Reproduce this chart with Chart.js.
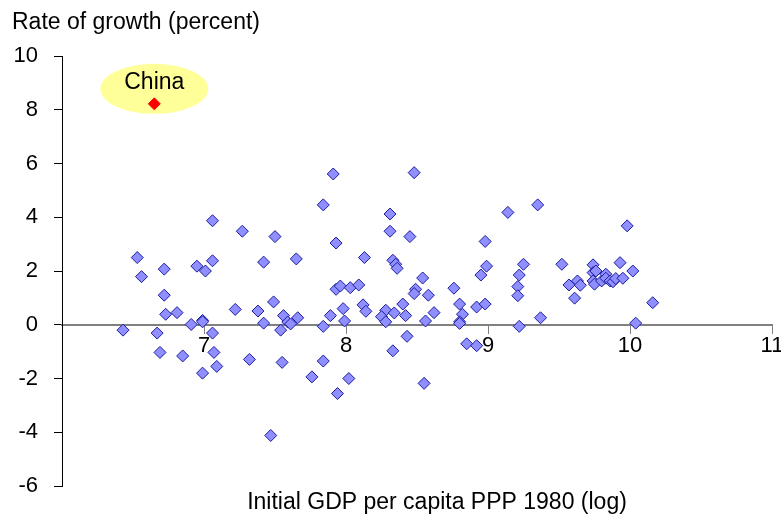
<!DOCTYPE html>
<html>
<head>
<meta charset="utf-8">
<script src="https://cdn.jsdelivr.net/npm/chart.js@4"></script>
<style>
  html, body { margin: 0; padding: 0; background: #fff; }
  #wrap { width: 781px; height: 518px; }
</style>
</head>
<body>
<div id="wrap"><canvas id="chart"></canvas></div>
<script>
// log of initial GDP per capita (PPP, 1980) for each country
const logGdp = [
  7.91, 7.84, 7.06, 7.27, 7.50, 7.93, 6.53, 6.95, 7.06, 7.01,
  6.72, 6.56, 7.42, 7.65, 6.72, 7.93, 7.96, 8.03, 8.09, 7.49,
  7.22, 7.38, 6.73, 6.81, 7.56, 7.66, 7.89, 7.98, 7.99, 6.99,
  6.99, 6.91, 7.42, 7.59, 7.61, 7.84, 7.54, 6.43, 6.67, 7.06,
  6.69, 6.85, 7.07, 7.09, 6.99, 7.32, 7.55, 7.84, 7.76, 8.02,
  7.94, 7.47, 8.48, 8.31, 8.31, 8.45, 8.13, 8.33, 8.35, 8.36,
  8.54, 8.49, 8.48, 8.58, 8.12, 8.14, 8.28, 8.25, 8.28, 8.34,
  8.40, 8.42, 8.56, 8.62, 8.43, 8.33, 8.55, 8.76, 8.80, 8.82,
  8.80, 8.80, 8.85, 8.92, 8.92, 8.98, 8.95, 8.99, 8.98, 9.14,
  9.35, 9.25, 9.22, 9.21, 9.21, 9.22, 9.37, 9.52, 9.57, 9.63,
  9.65, 9.61, 9.98, 9.74, 9.74, 9.76, 9.74, 9.75, 9.80, 9.83,
  9.83, 9.86, 9.88, 9.90, 9.93, 9.95, 10.02, 10.16, 10.04
];
// average rate of growth (percent), same order
const growth = [
  5.61, 4.46, 3.87, 3.48, 3.28, 3.04, 2.50, 2.18, 2.38, 2.00,
  2.07, 1.79, 2.33, 2.45, 1.10, 1.32, 1.44, 1.38, 1.48, 0.85,
  0.57, 0.51, 0.39, 0.45, 0.34, 0.26, 0.34, 0.60, 0.14, 0.16,
  0.11, 0.01, 0.06, 0.10, 0.03, -0.06, -0.20, -0.20, -0.31, -0.31,
  -1.03, -1.16, -1.03, -1.55, -1.80, -1.29, -1.40, -1.35, -1.94, -2.00,
  -2.56, -4.12, 5.66, 4.12, 3.48, 3.28, 2.50, 2.40, 2.25, 2.10,
  1.74, 1.32, 1.16, 1.10, 0.74, 0.50, 0.54, 0.30, 0.11, 0.44,
  0.77, 0.34, 0.14, 0.45, -0.43, -0.97, -2.18, 1.36, 0.77, 0.39,
  0.11, 0.05, -0.71, -0.78, 0.66, 0.77, 1.85, 2.18, 3.10, 4.18,
  4.46, 2.25, 1.85, 1.42, 1.08, -0.06, 0.26, 2.25, 1.48, 1.63,
  1.47, 0.99, 3.68, 2.23, 1.94, 2.00, 1.63, 1.51, 1.63, 1.88,
  1.73, 1.63, 1.60, 1.72, 2.31, 1.73, 2.00, 0.82, 0.06
];
const chinaLabel = "China";
const chinaGdp = [6.65];
const chinaGrowth = [8.22];

const xTicks = [7, 8, 9, 10, 11];
const yTicks = [-6, -4, -2, 0, 2, 4, 6, 8, 10];

const FONT = 'Arial, "Liberation Sans", sans-serif';

const toPoints = (xa, ya) => xa.map((x, i) => ({ x: x, y: ya[i] }));

// titles + the yellow bubble around China
const extras = {
  id: 'extras',
  beforeDatasetsDraw(chart) {
    const ctx = chart.ctx;
    const px = chart.scales.x.getPixelForValue(chinaGdp[0]);
    const py = chart.scales.y.getPixelForValue(chinaGrowth[0]);
    ctx.save();
    ctx.fillStyle = '#ffff99';
    ctx.beginPath();
    ctx.ellipse(px, py - 15, 54, 25, 0, 0, Math.PI * 2);
    ctx.fill();
    ctx.fillStyle = '#000';
    ctx.font = '23px ' + FONT;
    ctx.textAlign = 'center';
    ctx.textBaseline = 'alphabetic';
    ctx.fillText(chinaLabel, px, py - 15);
    ctx.restore();
  },
  afterDraw(chart) {
    const ctx = chart.ctx;
    ctx.save();
    ctx.fillStyle = '#000';
    ctx.font = '23px ' + FONT;
    ctx.textBaseline = 'alphabetic';
    ctx.textAlign = 'left';
    ctx.fillText('Rate of growth (percent)', 12, 29);
    ctx.textAlign = 'center';
    ctx.fillText('Initial GDP per capita PPP 1980 (log)', 437, 509);
    ctx.restore();
  }
};

new Chart(document.getElementById('chart'), {
  type: 'scatter',
  data: {
    datasets: [
      {
        data: toPoints(logGdp, growth),
        pointStyle: 'rectRot',
        pointRadius: 6,
        pointHoverRadius: 6,
        backgroundColor: '#8f8fff',
        borderColor: '#1c1c9c',
        borderWidth: 1
      },
      {
        data: toPoints(chinaGdp, chinaGrowth),
        pointStyle: 'rectRot',
        pointRadius: 6,
        pointHoverRadius: 6,
        backgroundColor: '#ff0000',
        borderColor: '#ff0000',
        borderWidth: 1
      }
    ]
  },
  options: {
    responsive: true,
    maintainAspectRatio: false,
    animation: false,
    layout: { padding: { left: 0, top: 56, right: 9, bottom: 32 } },
    plugins: {
      legend: { display: false },
      tooltip: { enabled: false }
    },
    scales: {
      x: {
        type: 'linear',
        min: 6,
        max: 11,
        position: { y: 0 },
        afterBuildTicks: s => { s.ticks = xTicks.map(v => ({ value: v })); },
        afterFit: s => { s.paddingLeft = 0; s.paddingRight = 0; },
        grid: { drawOnChartArea: false, drawTicks: true, tickLength: 8, color: '#808080' },
        border: { display: true, color: '#808080', width: 2 },
        ticks: { color: '#000', padding: 0, maxRotation: 0, font: { size: 22, family: FONT } }
      },
      y: {
        type: 'linear',
        min: -6,
        max: 10,
        afterBuildTicks: s => { s.ticks = yTicks.map(v => ({ value: v })); },
        afterFit: s => { s.width = 62; },
        grid: { drawOnChartArea: false, drawTicks: true, tickLength: 8, color: '#000' },
        border: { display: true, color: '#000', width: 1 },
        ticks: { color: '#000', padding: 16, font: { size: 22, family: FONT } }
      }
    }
  },
  plugins: [extras]
});
</script>
</body>
</html>
